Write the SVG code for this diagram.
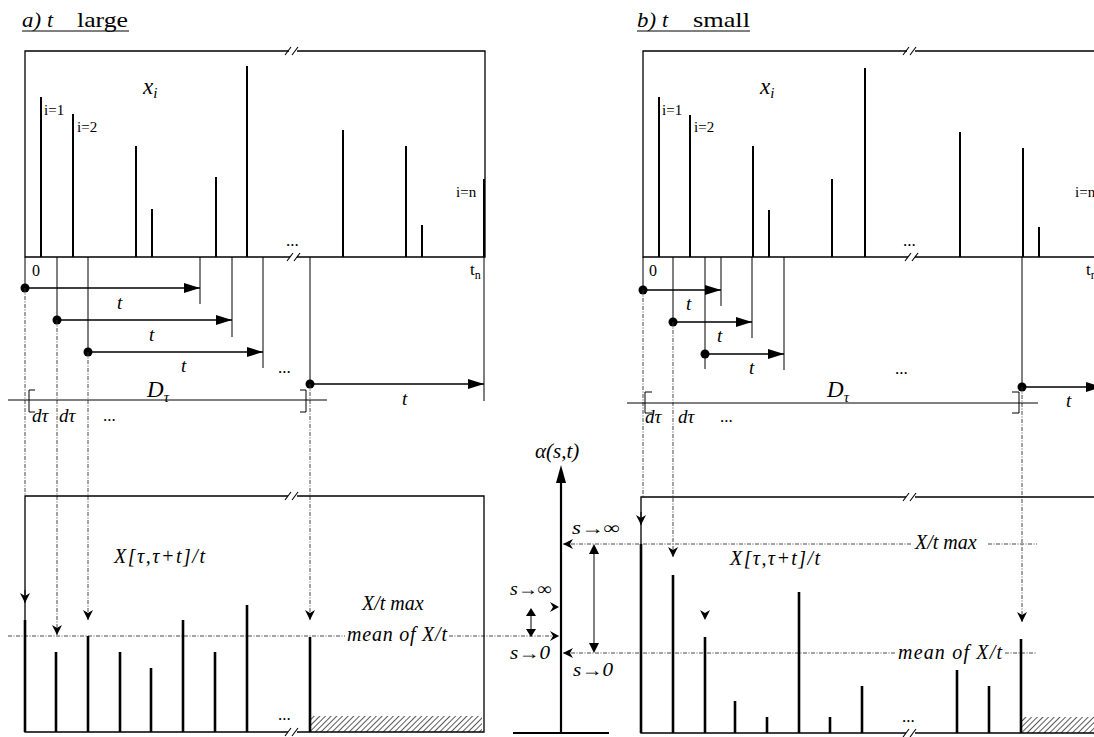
<svg xmlns="http://www.w3.org/2000/svg" width="1094" height="737" viewBox="0 0 1094 737">
<style>
text{font-family:"Liberation Serif","Times New Roman",serif;fill:#000}
.it{font-style:italic}
.box{fill:none;stroke:#000;stroke-width:1.3}
.spk{stroke:#000;stroke-width:2}
.bspk{stroke:#000;stroke-width:2.6}
.thin{stroke:#000;stroke-width:1;fill:none}
.dot{stroke:#333;stroke-width:0.9;stroke-dasharray:4 1.5 1 1.5;fill:none}
.arr{stroke:#000;stroke-width:1.6;fill:none}
.brk{stroke:#000;stroke-width:1.1}
.hd{fill:#000;stroke:none}
</style>
<defs>
<marker id="tri" viewBox="0 0 16 10" refX="16" refY="5" markerWidth="16" markerHeight="10" markerUnits="userSpaceOnUse" orient="auto"><path d="M0,0 L16,5 L0,10 Z" fill="#000"/></marker>
<marker id="chev" viewBox="0 0 10 10" refX="10" refY="5" markerWidth="10" markerHeight="10" markerUnits="userSpaceOnUse" orient="auto"><path d="M0,0 L10,5 L0,10 L3,5 Z" fill="#000"/></marker>
<pattern id="hatch" width="4" height="4" patternUnits="userSpaceOnUse" patternTransform="rotate(45)"><line x1="0" y1="0" x2="0" y2="4" stroke="#000" stroke-width="1.3"/></pattern>
</defs>
<rect width="1094" height="737" fill="#fff"/>

<!-- titles -->
<g id="title-a">
<text y="27" font-size="22"><tspan x="22" class="it" textLength="19" lengthAdjust="spacingAndGlyphs">a)</tspan><tspan x="47" class="it">t</tspan><tspan x="77" textLength="51" lengthAdjust="spacingAndGlyphs">large</tspan></text>
<line x1="22" y1="31" x2="129" y2="31" class="thin"/>
</g>
<g id="title-b">
<text y="27" font-size="22"><tspan x="637" class="it" textLength="19" lengthAdjust="spacingAndGlyphs">b)</tspan><tspan x="662" class="it">t</tspan><tspan x="693" textLength="57" lengthAdjust="spacingAndGlyphs">small</tspan></text>
<line x1="637" y1="31" x2="750" y2="31" class="thin"/>
</g>

<!-- panel a top -->
<g id="panel-a-top">
<path class="box" d="M289,51 H25 V257 H290 M297,257 H485 V51 H297"/>
<line class="brk" x1="285" y1="55" x2="291" y2="47"/><line class="brk" x1="292" y1="55" x2="298" y2="47"/>
<line class="brk" x1="287" y1="261" x2="293" y2="253"/><line class="brk" x1="294" y1="261" x2="300" y2="253"/>
<line class="spk" x1="41" y1="97" x2="41" y2="257"/>
<line class="spk" x1="73" y1="114" x2="73" y2="257"/>
<line class="spk" x1="136" y1="146" x2="136" y2="257"/>
<line class="spk" x1="152" y1="209" x2="152" y2="257"/>
<line class="spk" x1="216" y1="177" x2="216" y2="257"/>
<line class="spk" x1="247" y1="66" x2="247" y2="257"/>
<line class="spk" x1="343" y1="130" x2="343" y2="257"/>
<line class="spk" x1="406" y1="146" x2="406" y2="257"/>
<line class="spk" x1="422" y1="225" x2="422" y2="257"/>
<line class="spk" x1="484" y1="179" x2="484" y2="257"/>
<text x="143" y="94" font-size="23" class="it">x<tspan font-size="15" dy="4">i</tspan></text>
<text x="44" y="115" font-size="15">i=1</text>
<text x="77" y="132" font-size="15">i=2</text>
<text x="456" y="197" font-size="15">i=n</text>
<text x="286" y="246" font-size="17">...</text>
<text x="32" y="276" font-size="16">0</text>
<text x="470" y="275" font-size="17">t<tspan font-size="12" dy="4">n</tspan></text>
</g>

<!-- panel b top -->
<g id="panel-b-top">
<path class="box" d="M907,51 H643 V257 H908 M915,257 H1103 V51 H915"/>
<line class="brk" x1="903" y1="55" x2="909" y2="47"/><line class="brk" x1="910" y1="55" x2="916" y2="47"/>
<line class="brk" x1="905" y1="261" x2="911" y2="253"/><line class="brk" x1="912" y1="261" x2="918" y2="253"/>
<line class="spk" x1="659" y1="97" x2="659" y2="257"/>
<line class="spk" x1="690" y1="115" x2="690" y2="257"/>
<line class="spk" x1="753" y1="146" x2="753" y2="257"/>
<line class="spk" x1="769" y1="210" x2="769" y2="257"/>
<line class="spk" x1="832" y1="179" x2="832" y2="257"/>
<line class="spk" x1="865" y1="68" x2="865" y2="257"/>
<line class="spk" x1="960" y1="132" x2="960" y2="257"/>
<line class="spk" x1="1023" y1="148" x2="1023" y2="257"/>
<line class="spk" x1="1039" y1="227" x2="1039" y2="257"/>
<text x="760" y="94" font-size="23" class="it">x<tspan font-size="15" dy="4">i</tspan></text>
<text x="662" y="115" font-size="15">i=1</text>
<text x="694" y="132" font-size="15">i=2</text>
<text x="1075" y="197" font-size="15">i=n</text>
<text x="903" y="246" font-size="17">...</text>
<text x="649" y="276" font-size="16">0</text>
<text x="1086" y="275" font-size="17">t<tspan font-size="12" dy="4">n</tspan></text>
</g>

<!-- connectors -->
<g id="connectors">
<line class="thin" x1="25" y1="257" x2="25" y2="288"/>
<line class="thin" x1="57" y1="257" x2="57" y2="320"/>
<line class="thin" x1="88" y1="257" x2="88" y2="352"/>
<line class="thin" x1="310" y1="257" x2="310" y2="384"/>
<line class="thin" x1="484" y1="257" x2="484" y2="401"/>
<line class="thin" x1="200" y1="257" x2="200" y2="304"/>
<line class="thin" x1="232" y1="257" x2="232" y2="337"/>
<line class="thin" x1="263" y1="257" x2="263" y2="368"/>
<line class="arr" x1="25" y1="288" x2="200" y2="288" marker-end="url(#tri)"/>
<line class="arr" x1="57" y1="320" x2="232" y2="320" marker-end="url(#tri)"/>
<line class="arr" x1="88" y1="352" x2="263" y2="352" marker-end="url(#tri)"/>
<line class="arr" x1="310" y1="384" x2="484" y2="384" marker-end="url(#tri)"/>
<circle cx="25" cy="288" r="4.5"/><circle cx="57" cy="320" r="4.5"/><circle cx="88" cy="352" r="4.5"/><circle cx="310" cy="384" r="4.5"/>
<line class="thin" x1="643" y1="257" x2="643" y2="290"/>
<line class="thin" x1="673" y1="257" x2="673" y2="322"/>
<line class="thin" x1="705" y1="257" x2="705" y2="369"/>
<line class="thin" x1="1022" y1="257" x2="1022" y2="387"/>
<line class="thin" x1="721" y1="257" x2="721" y2="306"/>
<line class="thin" x1="752" y1="257" x2="752" y2="338"/>
<line class="thin" x1="784" y1="257" x2="784" y2="370"/>
<line class="arr" x1="643" y1="290" x2="721" y2="290" marker-end="url(#tri)"/>
<line class="arr" x1="673" y1="322" x2="752" y2="322" marker-end="url(#tri)"/>
<line class="arr" x1="705" y1="354" x2="784" y2="354" marker-end="url(#tri)"/>
<line class="arr" x1="1022" y1="387" x2="1102" y2="387" marker-end="url(#tri)"/>
<circle cx="643" cy="290" r="4.5"/><circle cx="673" cy="322" r="4.5"/><circle cx="705" cy="354" r="4.5"/><circle cx="1022" cy="387" r="4.5"/>
<line class="dot" x1="25" y1="288" x2="25" y2="496"/>
<line class="dot" x1="57" y1="320" x2="57" y2="635" marker-end="url(#chev)"/>
<line class="dot" x1="88" y1="352" x2="88" y2="620" marker-end="url(#chev)"/>
<line class="dot" x1="310" y1="384" x2="310" y2="620" marker-end="url(#chev)"/>
<line class="thin" x1="25" y1="590" x2="25" y2="603" marker-end="url(#chev)"/>
<line class="dot" x1="643" y1="290" x2="643" y2="497"/>
<line class="dot" x1="673" y1="322" x2="673" y2="557" marker-end="url(#chev)"/>
<line class="dot" x1="1022" y1="387" x2="1022" y2="622" marker-end="url(#chev)"/>
<line class="thin" x1="641" y1="512" x2="641" y2="525" marker-end="url(#chev)"/>
<path class="hd" d="M705,620 L700,610 L705,613 L710,610 Z"/>
<line class="dot" x1="8" y1="636" x2="345" y2="636"/>
<line class="dot" x1="449" y1="636" x2="559" y2="636"/>
<line class="dot" x1="563" y1="544" x2="912" y2="544"/>
<line class="dot" x1="988" y1="544" x2="1037" y2="544"/>
<line class="dot" x1="563" y1="653" x2="895" y2="653"/>
<line class="dot" x1="1005" y1="653" x2="1037" y2="653"/>
</g>

<g id="dtau-a">
<line class="thin" x1="8" y1="400" x2="327" y2="400"/>
<path class="thin" d="M35,390 H29 V412 H35" stroke-width="1.4"/>
<path class="thin" d="M300,390 H306 V412 H300" stroke-width="1.4"/>
<text x="147" y="397" font-size="23" class="it">D<tspan font-size="15" dy="5">τ</tspan></text>
<text x="32" y="422" font-size="19" class="it">dτ</text>
<text x="59" y="422" font-size="19" class="it">dτ</text>
<text x="103" y="421" font-size="17">...</text>
<text x="278" y="373" font-size="17">...</text>
<text x="117" y="309" font-size="19" class="it">t</text>
<text x="149" y="341" font-size="19" class="it">t</text>
<text x="181" y="372" font-size="19" class="it">t</text>
<text x="402" y="405" font-size="19" class="it">t</text>
</g>
<g id="dtau-b">
<line class="thin" x1="627" y1="403" x2="1038" y2="403"/>
<path class="thin" d="M652,392 H645 V413 H652" stroke-width="1.4"/>
<path class="thin" d="M1012,392 H1019 V413 H1012" stroke-width="1.4"/>
<text x="827" y="397" font-size="23" class="it">D<tspan font-size="15" dy="5">τ</tspan></text>
<text x="645" y="423" font-size="19" class="it">dτ</text>
<text x="678" y="423" font-size="19" class="it">dτ</text>
<text x="720" y="422" font-size="17">...</text>
<text x="895" y="374" font-size="17">...</text>
<text x="686" y="310" font-size="19" class="it">t</text>
<text x="717" y="342" font-size="19" class="it">t</text>
<text x="749" y="374" font-size="19" class="it">t</text>
<text x="1066" y="407" font-size="19" class="it">t</text>
</g>

<g id="panel-a-bottom">
<path class="box" d="M288,496 H25 V732 H288 M297,732 H484 V496 H297"/>
<line class="brk" x1="285" y1="500" x2="291" y2="492"/><line class="brk" x1="292" y1="500" x2="298" y2="492"/>
<line class="brk" x1="285" y1="736" x2="291" y2="728"/><line class="brk" x1="292" y1="736" x2="298" y2="728"/>
<rect x="311" y="716" width="171" height="16" fill="url(#hatch)"/>
<line class="bspk" x1="25" y1="620" x2="25" y2="732"/>
<line class="bspk" x1="56" y1="652" x2="56" y2="732"/>
<line class="bspk" x1="88" y1="636" x2="88" y2="732"/>
<line class="bspk" x1="120" y1="652" x2="120" y2="732"/>
<line class="bspk" x1="151" y1="668" x2="151" y2="732"/>
<line class="bspk" x1="183" y1="620" x2="183" y2="732"/>
<line class="bspk" x1="215" y1="652" x2="215" y2="732"/>
<line class="bspk" x1="247" y1="605" x2="247" y2="732"/>
<line class="bspk" x1="310" y1="637" x2="310" y2="732"/>
<text x="278" y="720" font-size="17">...</text>
<text x="114" y="563" font-size="20" class="it" textLength="91">X[τ,τ+t]/t</text>
<text x="362" y="610" font-size="20" class="it">X/t max</text>
<text x="347" y="641" font-size="20" class="it" textLength="100">mean of X/t</text>
</g>

<g id="panel-b-bottom">
<path class="box" d="M906,497 H641 V733 H906 M915,733 H1103 V497 H915"/>
<line class="brk" x1="903" y1="501" x2="909" y2="493"/><line class="brk" x1="910" y1="501" x2="916" y2="493"/>
<line class="brk" x1="903" y1="737" x2="909" y2="729"/><line class="brk" x1="910" y1="737" x2="916" y2="729"/>
<rect x="1022" y="717" width="80" height="16" fill="url(#hatch)"/>
<line class="bspk" x1="641" y1="544" x2="641" y2="733"/>
<line class="bspk" x1="673" y1="575" x2="673" y2="733"/>
<line class="bspk" x1="705" y1="637" x2="705" y2="733"/>
<line class="bspk" x1="735" y1="701" x2="735" y2="733"/>
<line class="bspk" x1="767" y1="717" x2="767" y2="733"/>
<line class="bspk" x1="799" y1="592" x2="799" y2="733"/>
<line class="bspk" x1="830" y1="717" x2="830" y2="733"/>
<line class="bspk" x1="862" y1="686" x2="862" y2="733"/>
<line class="bspk" x1="957" y1="670" x2="957" y2="733"/>
<line class="bspk" x1="989" y1="686" x2="989" y2="733"/>
<line class="bspk" x1="1021" y1="639" x2="1021" y2="733"/>
<text x="902" y="722" font-size="17">...</text>
<text x="730" y="565" font-size="20" class="it" textLength="90">X[τ,τ+t]/t</text>
<text x="915" y="549" font-size="20" class="it">X/t max</text>
<text x="898" y="659" font-size="20" class="it" textLength="104">mean of X/t</text>
</g>

<g id="alpha-axis">
<line x1="561" y1="480" x2="561" y2="733" stroke="#000" stroke-width="2.2"/>
<path class="hd" d="M561,465 L566,483 L556,483 Z"/>
<line x1="513" y1="733" x2="609" y2="733" stroke="#000" stroke-width="1.8"/>
<text x="535" y="458" font-size="21" class="it">α(s,t)</text>
<text x="572" y="534" font-size="18" class="it" textLength="48" lengthAdjust="spacingAndGlyphs">s→∞</text>
<text x="510" y="595" font-size="18" class="it" textLength="42" lengthAdjust="spacingAndGlyphs">s→∞</text>
<text x="510" y="659" font-size="18" class="it" textLength="40" lengthAdjust="spacingAndGlyphs">s→0</text>
<text x="573" y="676" font-size="18" class="it" textLength="40" lengthAdjust="spacingAndGlyphs">s→0</text>
<path class="hd" d="M563,544 L573,539 L570,544 L573,549 Z"/>
<path class="hd" d="M563,653 L573,648 L570,653 L573,658 Z"/>
<path class="hd" d="M559,607 L550,602 L553,607 L550,612 Z"/>
<path class="hd" d="M559,636 L550,631 L553,636 L550,641 Z"/>
<line class="thin" x1="531" y1="615" x2="531" y2="630"/>
<path class="hd" d="M531,608 L536,616 L526,616 Z"/>
<path class="hd" d="M531,637 L536,629 L526,629 Z"/>
<line class="thin" x1="594" y1="553" x2="594" y2="644"/>
<path class="hd" d="M594,544 L599,554 L589,554 Z"/>
<path class="hd" d="M594,653 L599,643 L589,643 Z"/>
</g>
</svg>
